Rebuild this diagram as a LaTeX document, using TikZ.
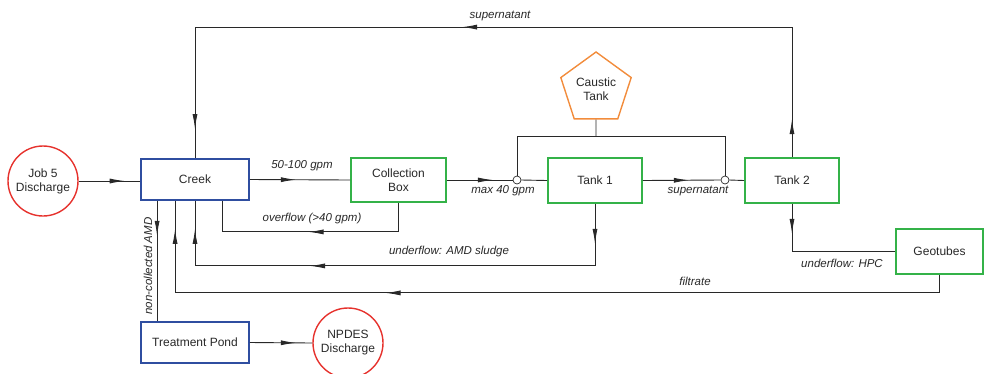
\documentclass[tikz,border=0pt]{standalone}
\usepackage{fontspec}
\setmainfont{Liberation Sans}
\usetikzlibrary{arrows.meta,shapes.geometric,decorations.markings}
\definecolor{bblue}{RGB}{47,78,160}
\definecolor{bgreen}{RGB}{52,178,72}
\definecolor{bred}{RGB}{230,50,45}
\definecolor{borange}{RGB}{242,140,60}
\definecolor{ink}{RGB}{40,40,40}
\tikzset{
  x=1pt, y=-1pt,
  box/.style={draw, line width=1.8pt, rectangle, minimum width=#1, minimum height=44pt, inner sep=0pt, align=center, text=ink, font=\fontsize{12}{14}\selectfont},
  rnd/.style={draw=bred, line width=1.4pt, circle, minimum size=70pt, inner sep=0pt, align=center, text=ink, font=\fontsize{12}{14}\selectfont},
  junc/.style={draw=ink, line width=0.7pt, circle, minimum size=8pt, inner sep=0pt, fill=white},
  lbl/.style={text=ink, font=\fontsize{11.5}{13}\selectfont\itshape, inner sep=0pt},
  conn/.style={draw=ink, line width=0.9pt},
  ar/.style={postaction={decorate, decoration={markings, mark=at position #1 with {\arrow{Latex[length=15pt,width=5pt]}}}}},
}
\begin{document}
\begin{tikzpicture}
\useasboundingbox (0,0) rectangle (984,373);
% nodes
\node[rnd] (job) at (43,181) {Job 5\\Discharge};
\node[box=108pt, draw=bblue, minimum height=41pt] (creek) at (195,179.5) {Creek};
\node[box=95pt, draw=bgreen] (cb) at (398.5,180) {Collection\\Box};
\node[box=94pt, draw=bgreen, minimum height=45pt] (t1) at (595,180.5) {Tank 1};
\node[box=94pt, draw=bgreen, minimum height=45pt] (t2) at (792,180.5) {Tank 2};
\node[box=87pt, draw=bgreen, minimum height=45pt] (geo) at (939.5,251.5) {Geotubes};
\node[box=108pt, draw=bblue, minimum height=41pt] (tp) at (195,342.5) {Treatment Pond};
\node[rnd] (npdes) at (348,343) {NPDES\\Discharge};
\node[regular polygon, regular polygon sides=5, minimum size=74pt, draw=borange, line width=1.4pt, inner sep=0pt, align=center, text=ink, font=\fontsize{12}{14}\selectfont] (ct) at (596,89) {Caustic\\Tank};
\node[junc] (j1) at (517,180) {};
\node[junc] (j2) at (725,180) {};
\coordinate (cj) at (596,136);
% connectors
\draw[conn, ar=46pt] (job.east) -- (creek.west |- job.east);
\draw[conn, ar=46pt] (creek.east) -- (cb.west);
\draw[conn, ar=46pt] (cb.east) -- (j1.west);
\draw[conn] (j1.east) -- (t1.west);
\draw[conn, ar=46pt] (t1.east) -- (j2.west);
\draw[conn] (j2.east) -- (t2.west);
\draw[conn] (ct.south) -- (cj);
\draw[conn] (cj) -| (j1.north);
\draw[conn] (cj) -| (j2.north);
\draw[conn, ar=119pt] (cb.south) -- ++(0,29) -| ([xshift=82pt]creek.south west);
\draw[conn, ar=40pt, ar=347pt, ar=-28pt] (t1.south) -- ++(0,62) -| (creek.south);
\draw[conn, ar=572pt, ar=-28pt] (geo.south) -- ++(0,18) -| ([xshift=35pt]creek.south west);
\draw[conn, ar=35pt] ([xshift=17pt]creek.south west) -- ([xshift=17pt]tp.north west);
\draw[conn, ar=38pt, ar=460pt, ar=-29pt] (t2.north) -- ++(0,-130) -| (creek.north);
\draw[conn, ar=30pt] (t2.south) |- (geo.west);
\draw[conn, ar=46pt] (tp.east) -- (npdes.west);
% labels
\node[lbl] (l1) at (500,16) {supernatant};
\node[lbl] (l2) at (302,166) {50-100 gpm};
\node[lbl] (l3) at (312,219) {overflow (>40 gpm)};
\node[lbl] (l4) at (449,252) {underflow: AMD sludge};
\node[lbl] (l5) at (695,281) {filtrate};
\node[lbl] (l6) at (503,191) {max 40 gpm};
\node[lbl] (l7) at (698,191) {supernatant};
\node[lbl] (l8) at (842,263) {underflow: HPC};
\node[lbl, rotate=90] (l9) at (148,266) {non-collected AMD};
\end{tikzpicture}
\end{document}
